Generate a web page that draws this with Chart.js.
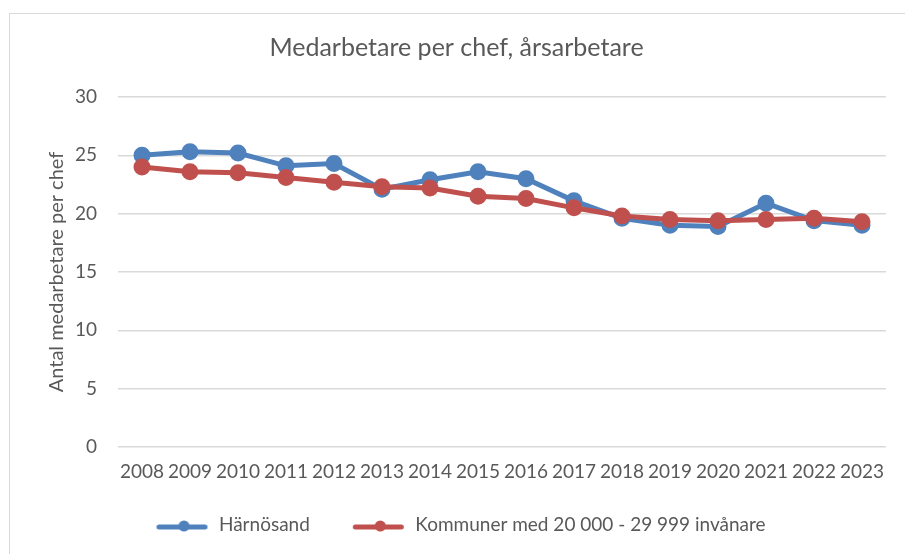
<!DOCTYPE html>
<html>
<head>
<meta charset="utf-8">
<script src="https://cdn.jsdelivr.net/npm/chart.js@4"></script>
<style>
  html, body { margin: 0; padding: 0; background: #fff; overflow: hidden; }
  #frame { position: absolute; left: 9px; top: 13px; width: 1000px; height: 1000px;
           border-left: 1px solid #d9d9d9; border-top: 1px solid #d9d9d9; }
  #wrap { position: absolute; left: 0; top: 0; width: 905px; height: 554px; }
</style>
</head>
<body>
<div id="frame"></div>
<div id="wrap"><canvas id="c"></canvas></div>
<script>
const years = ['2008','2009','2010','2011','2012','2013','2014','2015','2016','2017','2018','2019','2020','2021','2022','2023'];
const harnosand = [25.0, 25.3, 25.2, 24.1, 24.3, 22.1, 22.9, 23.6, 23.0, 21.1, 19.6, 19.0, 18.9, 20.9, 19.4, 19.0];
const kommuner = [24.0, 23.6, 23.5, 23.1, 22.7, 22.3, 22.2, 21.5, 21.3, 20.5, 19.8, 19.5, 19.4, 19.5, 19.6, 19.3];
const yTicks = [0, 5, 10, 15, 20, 25, 30];

const BLUE = '#4f81bd';
const RED = '#c0504d';
const TXT = '#595959';
const FONT = 'Lato, "Open Sans", sans-serif';

// legend marker: line with a dot, drawn into a small canvas
const legendIcon = (color) => {
    const c = document.createElement('canvas');
    c.width = 62; c.height = 14;
    const g = c.getContext('2d');
    g.strokeStyle = color;
    g.lineWidth = 5;
    g.lineCap = 'round';
    g.beginPath(); g.moveTo(11.5, 9); g.lineTo(57.5, 9); g.stroke();
    g.fillStyle = color;
    g.beginPath(); g.arc(36.5, 8, 5.5, 0, Math.PI * 2); g.fill();
    return c;
};

new Chart(document.getElementById('c'), {
    type: 'line',
    data: {
        labels: years,
        datasets: [
            { label: 'Härnösand', data: harnosand, borderColor: BLUE, backgroundColor: BLUE,
              borderWidth: 5, pointRadius: 6, pointHoverRadius: 6, tension: 0, order: 1,
              legendIcon: legendIcon(BLUE) },
            { label: 'Kommuner med 20 000 - 29 999 invånare', data: kommuner, borderColor: RED, backgroundColor: RED,
              borderWidth: 5, pointRadius: 6, pointHoverRadius: 6, tension: 0, order: 0,
              legendIcon: legendIcon(RED) }
        ]
    },
    options: {
        responsive: true,
        maintainAspectRatio: false,
        animation: false,
        layout: { padding: { left: 27, right: 19, top: 20, bottom: 9.5 } },
        plugins: {
            title: {
                display: true,
                text: 'Medarbetare per chef, årsarbetare',
                color: TXT,
                font: { family: FONT, size: 25, weight: 'normal' },
                padding: { top: 13, bottom: 34 }
            },
            legend: {
                position: 'bottom',
                labels: {
                    color: TXT,
                    font: { family: FONT, size: 19 },
                    usePointStyle: true,
                    pointStyleWidth: 62,
                    padding: 34,
                    generateLabels: (chart) => chart.data.datasets.map((ds, i) => ({
                        text: ds.label,
                        fontColor: TXT,
                        pointStyle: ds.legendIcon,
                        datasetIndex: i,
                        hidden: false,
                        lineWidth: 0
                    }))
                }
            },
            tooltip: { enabled: false }
        },
        scales: {
            x: {
                offset: true,
                afterFit: (s) => { s.height = 34.5; },
                grid: { display: false, drawTicks: false },
                border: { display: false },
                ticks: { color: TXT, font: { family: FONT, size: 19 }, padding: 13, maxRotation: 0 }
            },
            y: {
                min: 0, max: 30,
                afterFit: (s) => { s.width = 91; },
                afterBuildTicks: (s) => { s.ticks = yTicks.map(v => ({ value: v })); },
                grid: { color: '#d9d9d9', lineWidth: 1.5, drawTicks: false },
                border: { display: false },
                ticks: { color: TXT, font: { family: FONT, size: 19 }, padding: 21 },
                title: {
                    display: true,
                    text: 'Antal medarbetare per chef',
                    color: TXT,
                    font: { family: FONT, size: 20 },
                    padding: { top: 18, bottom: 0 }
                }
            }
        }
    }
});
</script>
</body>
</html>
